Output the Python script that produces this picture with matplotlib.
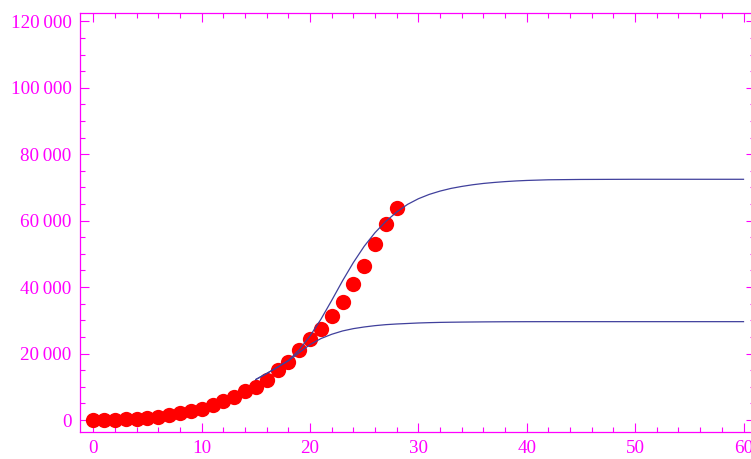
import matplotlib.pyplot as plt
from matplotlib.ticker import MultipleLocator, FuncFormatter

# observed cases (red dots)
days = list(range(29))
cases = [0, 50, 100, 300, 400, 700, 1000, 1600, 2200, 2800, 3300, 4400, 5600, 7000,
         8800, 9800, 12000, 15000, 17400, 21000, 24400, 27500, 31200, 35400,
         40800, 46500, 53100, 58900, 63700]

# fitted curves
curve_x = [15, 16, 17, 18, 19, 20, 21, 22, 23, 24, 25, 26, 27, 28, 29, 30, 31, 32,
           33, 34, 35, 36, 37, 38, 39, 40, 42, 45, 50, 55, 60]
upper_y = [12200, 14000, 15900, 17900, 21100, 25300, 30300, 36000, 41900, 47400,
           52300, 56400, 59800, 62600, 64900, 66600, 67900, 68900, 69700, 70300,
           70800, 71200, 71500, 71750, 71950, 72100, 72300, 72400, 72450, 72450, 72450]
lower_y = [12200, 14000, 15900, 17800, 20300, 22700, 24500, 25800, 26800, 27500,
           28000, 28400, 28700, 28900, 29050, 29200, 29300, 29380, 29430, 29470,
           29500, 29530, 29550, 29570, 29580, 29590, 29600, 29600, 29600, 29600, 29600]

magenta = '#ff00ff'
line_col = '#40409c'

plt.rcParams['font.family'] = ['Liberation Serif', 'DejaVu Serif']

fig = plt.figure(figsize=(7.51, 4.59), dpi=100)
# right frame edge sits just past the picture border
ax = fig.add_axes([80 / 751, (459 - 431.7) / 459, 675 / 751, 418.4 / 459])

ax.plot(days, cases, 'o', color='#ff0000', markersize=11, markeredgewidth=0, zorder=2)
ax.plot(curve_x, upper_y, color=line_col, lw=0.9, zorder=3)
ax.plot(curve_x, lower_y, color=line_col, lw=0.9, zorder=3)

ax.set_xlim(-1.227, 61.06)
ax.set_ylim(-3521, 122408)

ax.xaxis.set_major_locator(MultipleLocator(10))
ax.xaxis.set_minor_locator(MultipleLocator(2))
ax.yaxis.set_major_locator(MultipleLocator(20000))
ax.yaxis.set_minor_locator(MultipleLocator(5000))


def fmt(v, pos):
    v = int(round(v))
    if v == 0:
        return '0'
    s = f'{v:,}'
    return s.replace(',', '\u2009')


ax.yaxis.set_major_formatter(FuncFormatter(fmt))

for sp in ax.spines.values():
    sp.set_color(magenta)
    sp.set_linewidth(0.9)

ax.tick_params(which='both', direction='in', colors=magenta, top=True, right=True,
               labelsize=13.7, width=0.8)
ax.tick_params(which='major', length=6.5)
ax.tick_params(which='minor', length=3.5)
ax.tick_params(axis='y', pad=6)
ax.tick_params(axis='x', pad=6)

fig.savefig('out.png', dpi=100)
